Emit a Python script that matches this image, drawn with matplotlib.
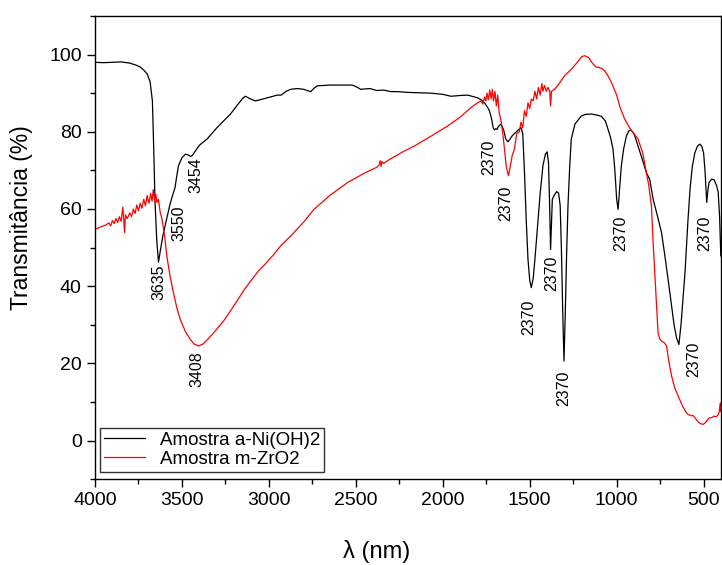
import matplotlib
matplotlib.use("Agg")
import matplotlib.pyplot as plt
from matplotlib.ticker import MultipleLocator

plt.rcParams['font.family'] = ['Liberation Sans', 'DejaVu Sans']

# Amostra a-Ni(OH)2 (black)
ni_wn = [4000, 3950, 3900, 3850, 3800, 3760, 3740, 3720, 3700, 3683, 3670, 3662, 3655, 3645,
         3635, 3625, 3610, 3590, 3570, 3552, 3540, 3530, 3520, 3500, 3480, 3465, 3450, 3440,
         3420, 3400, 3356, 3298, 3250, 3221, 3180, 3150, 3135, 3110, 3080, 3058, 3000, 2952,
         2930, 2900, 2875, 2837, 2800, 2760, 2740, 2721, 2650, 2520, 2490, 2472, 2420, 2380,
         2340, 2300, 2260, 2200, 2068, 2000, 1953, 1900, 1856, 1800, 1780, 1760, 1745, 1732,
         1720, 1710, 1703, 1695, 1688, 1680, 1665, 1650, 1638, 1626, 1615, 1600, 1588, 1565,
         1550, 1540, 1530, 1520, 1510, 1500, 1491, 1480, 1470, 1453, 1440, 1424, 1410, 1400,
         1392, 1385, 1380, 1375, 1370, 1360, 1345, 1334, 1325, 1318, 1310, 1303, 1296, 1288,
         1280, 1270, 1261, 1240, 1203, 1180, 1146, 1110, 1088, 1065, 1050, 1035, 1021, 1012,
         1007, 1000, 992, 985, 973, 960, 944, 930, 919, 900, 877, 850, 829, 810, 790, 770,
         742, 720, 694, 670, 655, 642, 630, 620, 607, 590, 578, 565, 550, 535, 521, 510,
         500, 492, 482, 475, 469, 455, 440, 425, 416, 408, 401]
ni_t = [98.0, 97.9, 98.0, 98.1, 97.8, 97.2, 96.8, 96.0, 95.0, 92.9, 88.0, 75.0, 62.0, 52.0,
        46.2, 49.0, 53.0, 57.0, 61.0, 63.8, 65.5, 68.5, 71.2, 73.3, 74.2, 74.0, 73.6, 73.9,
        75.2, 76.5, 78.1, 81.1, 83.3, 84.6, 87.0, 88.7, 89.2, 88.6, 88.0, 88.2, 88.9, 89.5,
        89.5, 90.5, 91.0, 91.2, 91.0, 90.4, 91.3, 91.9, 92.1, 92.1, 91.5, 91.0, 91.2, 90.7,
        90.8, 90.4, 90.4, 90.2, 90.0, 89.7, 89.2, 89.4, 89.5, 88.8, 88.3, 87.5, 86.5, 85.5,
        83.5, 81.0, 80.5, 80.8, 80.6, 81.4, 82.0, 80.5, 78.2, 77.4, 78.0, 79.0, 79.5, 80.5,
        81.1, 79.5, 69.4, 57.0, 47.0, 41.5, 39.6, 42.0, 47.0, 56.5, 64.0, 71.2, 74.2, 74.8,
        72.0, 60.0, 49.5, 56.0, 62.5, 63.5, 64.5, 64.1, 61.0, 50.0, 33.0, 20.6, 32.0, 48.0,
        60.8, 71.0, 78.1, 82.0, 84.1, 84.5, 84.6, 84.3, 84.0, 82.8, 80.7, 78.5, 75.5, 71.0,
        67.7, 62.5, 59.9, 64.0, 71.2, 75.5, 78.9, 80.2, 80.5, 79.5, 76.3, 72.5, 69.4, 67.7, 62.5, 59.0,
        53.9, 47.0, 38.3, 30.0, 26.5, 24.9, 30.0, 36.0, 43.5, 57.0, 65.1, 71.0, 74.6, 76.3, 76.8, 76.2,
        74.5, 70.0, 61.7, 65.0, 66.8, 67.7, 67.6, 66.0, 64.3, 58.0, 47.8]

# Amostra m-ZrO2 (red)
zr_wn = [4000, 3980, 3960, 3940, 3920, 3910, 3900, 3890, 3880, 3870, 3860, 3850, 3840, 3835,
         3830, 3825, 3815, 3800, 3790, 3780, 3770, 3760, 3750, 3740, 3730, 3720, 3710, 3700,
         3690, 3680, 3672, 3665, 3658, 3650, 3644, 3635, 3625, 3615, 3600, 3587, 3570, 3549,
         3530, 3510, 3480, 3452, 3430, 3404, 3380, 3350, 3318, 3260, 3203, 3140, 3068, 3020,
         2972, 2933, 2875, 2800, 2741, 2650, 2549, 2450, 2380, 2365, 2360, 2355, 2350, 2340,
         2300, 2230, 2164, 2070, 1972, 1900, 1837, 1800, 1780, 1770, 1760, 1752, 1745, 1738,
         1730, 1722, 1715, 1708, 1700, 1692, 1684, 1676, 1665, 1655, 1645, 1635, 1622, 1610,
         1600, 1588, 1575, 1560, 1550, 1540, 1530, 1520, 1510, 1500, 1491, 1480, 1470, 1460,
         1450, 1440, 1430, 1424, 1415, 1405, 1395, 1385, 1380, 1375, 1357, 1330, 1300, 1261,
         1230, 1200, 1184, 1160, 1140, 1120, 1107, 1085, 1069, 1050, 1030, 1000, 980, 954,
         920, 877, 850, 829, 815, 800, 790, 781, 770, 762, 752, 742, 725, 713, 700, 684, 665,
         646, 620, 600, 588, 570, 560, 550, 530, 515, 502, 490, 475, 465, 454, 440, 425, 416,
         410, 405, 402, 400]
zr_t = [54.7, 55.1, 55.5, 55.8, 56.4, 55.6, 57.0, 56.2, 57.5, 56.5, 58.0, 56.8, 60.5, 57.0,
        53.9, 58.5, 57.5, 59.0, 58.0, 60.0, 58.8, 61.0, 59.5, 61.5, 60.2, 62.5, 60.8, 63.5,
        61.5, 64.0, 62.0, 65.0, 62.3, 63.8, 61.7, 62.5, 59.1, 57.5, 53.0, 47.8, 43.0, 38.3,
        34.5, 31.4, 28.2, 26.2, 25.0, 24.5, 25.0, 26.3, 27.9, 31.0, 34.8, 39.2, 43.5, 45.8,
        48.2, 50.4, 53.0, 56.6, 59.9, 63.5, 66.8, 69.3, 70.8, 71.5, 72.5, 71.0, 72.3, 71.8,
        73.0, 74.8, 76.3, 78.8, 81.5, 83.8, 86.3, 87.5, 88.0, 87.2, 89.0, 88.0, 90.0, 88.3,
        90.8, 88.5, 91.0, 88.0, 90.5, 86.7, 89.5, 85.0, 83.0, 79.5, 75.5, 71.0, 68.6, 71.5,
        74.0, 75.5, 79.5, 80.0, 82.5, 81.0, 85.5, 84.0, 87.5, 86.0, 88.5, 88.0, 90.5, 88.5,
        91.5, 89.5, 92.5, 90.5, 92.0, 90.5, 91.5, 90.5, 86.7, 90.5, 91.0, 92.5, 94.5, 96.2,
        97.8, 99.5, 99.7, 99.2, 97.8, 96.8, 96.7, 96.4, 95.8, 94.5, 92.8, 89.5, 86.3, 83.3,
        80.6, 78.1, 74.5, 69.4, 66.0, 60.8, 51.0, 43.5, 34.0, 27.9, 26.3, 25.8, 25.3, 24.5, 20.5, 16.7, 13.5,
        11.5, 8.8, 7.3, 6.7, 6.4, 6.5, 5.9, 4.8, 4.3, 4.2, 4.6, 5.5, 5.9, 5.9, 6.3, 6.2, 6.7,
        7.5, 9.6, 7.5, 9.8]

# peak labels: text, x position, top of text (data units)
peak_labels = ['3635', '3550', '3454', '3408', '2370', '2370', '2370', '2370',
               '2370', '2370', '2370', '2370']
peak_x = [3631, 3516, 3418, 3412, 1733, 1636, 1507, 1372, 1303, 976, 559, 491]
peak_y = [45.5, 61.0, 73.4, 23.2, 78.0, 66.0, 36.6, 48.0, 18.0, 58.2, 25.5, 58.4]

fig = plt.figure(figsize=(7.22, 5.65), dpi=100)
ax = fig.add_axes([0.1316, 0.152, 0.867, 0.8197])

ax.plot(ni_wn, ni_t, color='black', lw=0.9, label='Amostra a-Ni(OH)2')
ax.plot(zr_wn, zr_t, color='red', lw=0.9, label='Amostra m-ZrO2')

for lab, px, py in zip(peak_labels, peak_x, peak_y):
    ax.text(px, py, lab, rotation=90, ha='center', va='top', fontsize=11.5)

ax.set_xlim(4000, 400)
ax.set_ylim(-10, 110)
ax.xaxis.set_major_locator(MultipleLocator(500))
ax.xaxis.set_minor_locator(MultipleLocator(250))
ax.yaxis.set_major_locator(MultipleLocator(20))
ax.yaxis.set_minor_locator(MultipleLocator(10))
ax.tick_params(which='major', direction='out', length=6, width=1, labelsize=14)
ax.tick_params(which='minor', direction='out', length=3.5, width=1)
for s in ax.spines.values():
    s.set_linewidth(1)

ax.set_xlabel('λ (nm)', fontsize=17)
ax.set_ylabel('Transmitância (%)', fontsize=16.5)
ax.xaxis.set_label_coords(0.45, -0.131)
ax.yaxis.set_label_coords(-0.099, 0.564)

leg = ax.legend(loc='lower left', bbox_to_anchor=(0.008, 0.016), fontsize=13.5,
                frameon=True, fancybox=False, edgecolor='black', handlelength=2.2,
                borderpad=0.2, labelspacing=0.1, borderaxespad=0)
leg.get_frame().set_linewidth(1)

fig.savefig('out.png', dpi=100)
